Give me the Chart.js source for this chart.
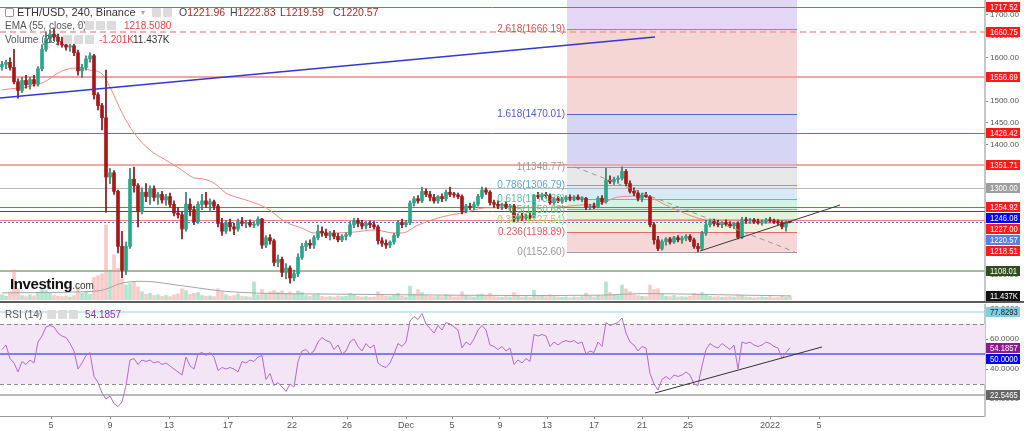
<!DOCTYPE html>
<html><head><meta charset="utf-8">
<script src="https://cdn.jsdelivr.net/npm/chart.js@4.4.1/dist/chart.umd.min.js"></script>
<style>
html,body{margin:0;padding:0;background:#fff;width:1024px;height:431px;overflow:hidden;font-family:Arial,"Liberation Sans",sans-serif;}
#wrap{position:relative;width:1024px;height:431px;}
#mainBox{position:absolute;left:0;top:0;width:1024px;height:301px;}
#sep{position:absolute;left:0;top:301px;width:1024px;height:2px;background:#5b5b5b;}
#rsiBox{position:absolute;left:0;top:303px;width:1024px;height:128px;}
.lg{position:absolute;white-space:nowrap;color:#555;font-size:10px;line-height:10px;}
.r1{font-size:11px;line-height:11px;color:#444;top:7px;}
.r1b{font-size:10.5px;line-height:11px;color:#444;top:7px;}
.ic{position:absolute;width:9px;height:9px;background:#dcdcdc;border-radius:1px;}
.v{color:#a3312f;}
</style></head>
<body><div id="wrap">
<div id="mainBox"><canvas id="mainChart" width="1024" height="301"></canvas></div>
<div id="sep"></div>
<div id="rsiBox"><canvas id="rsiChart" width="1024" height="128"></canvas></div>

<div class="ic" style="left:5px;top:8px;background:#fff;border:1px solid #999;width:7px;height:7px;"></div>
<div class="lg r1" style="left:17px;color:#333;">ETH/USD, 240, Binance</div>
<div class="lg" style="left:141px;top:8px;color:#aaa;font-size:8px;">▾</div>
<div class="ic" style="left:152px;top:8px;"></div><div class="ic" style="left:163px;top:8px;"></div>
<div class="lg r1b" style="left:179px;">O<span class="v">1221.96</span></div>
<div class="lg r1b" style="left:230px;">H<span class="v">1222.83</span></div>
<div class="lg r1b" style="left:280px;">L<span class="v">1219.59</span></div>
<div class="lg r1b" style="left:333px;">C<span class="v">1220.57</span></div>

<div class="lg" style="left:5px;top:21px;">EMA (55, close, 0)</div>
<div class="lg" style="left:77px;top:21px;color:#aaa;font-size:8px;">▾</div>
<div class="ic" style="left:85px;top:21px;"></div><div class="ic" style="left:96px;top:21px;"></div><div class="ic" style="left:107px;top:21px;"></div>
<div class="lg" style="left:124px;top:21px;color:#ef4444;">1218.5080</div>

<div class="lg" style="left:5px;top:35px;">Volume (20)</div>
<div class="ic" style="left:63px;top:35px;"></div><div class="ic" style="left:74px;top:35px;"></div><div class="ic" style="left:85px;top:35px;"></div>
<div class="lg" style="left:99px;top:35px;color:#ef4444;">-1.201K</div>
<div class="lg" style="left:133px;top:35px;color:#333;">11.437K</div>

<div class="lg" style="left:10px;top:276px;color:#111;font-size:15px;line-height:16px;font-weight:bold;letter-spacing:-0.4px;">Investing<span style="font-size:10px;font-weight:normal;color:#333;letter-spacing:0;">.com</span></div>

<div class="lg" style="left:5px;top:310px;">RSI (14)</div>
<div class="lg" style="left:36px;top:310px;color:#aaa;font-size:8px;">▾</div>
<div class="ic" style="left:47px;top:310px;"></div><div class="ic" style="left:58px;top:310px;"></div><div class="ic" style="left:69px;top:310px;"></div>
<div class="lg" style="left:85px;top:310px;color:#9c27b0;">54.1857</div>
</div>
<script>
// ---------- DATA ----------
const opens = [1580,1585,1590,1578,1545,1525,1548,1538,1550,1540,
1575,1620,1645,1655,1648,1638,1630,1625,1628,1612,
1570,1578,1598,1605,1515,1490,1462,1325,1335,1292,
1165,1110,1165,1320,1305,1245,1290,1280,1298,1278,
1285,1272,1280,1262,1242,1238,1205,1262,1250,1222,
1262,1270,1262,1268,1258,1218,1200,1220,1210,1205,
1222,1218,1220,1214,1216,1228,1168,1185,1178,1128,
1135,1105,1115,1092,1102,1140,1165,1172,1168,1185,
1200,1196,1190,1195,1188,1180,1188,1192,1215,1225,
1218,1212,1218,1215,1210,1178,1172,1168,1175,1190,
1220,1215,1220,1265,1275,1270,1292,1285,1278,1270,
1280,1275,1290,1285,1284,1280,1248,1258,1255,1262,
1280,1295,1290,1266,1262,1258,1262,1256,1258,1228,
1235,1230,1236,1232,1282,1280,1284,1282,1266,1275,
1270,1274,1278,1276,1279,1275,1276,1255,1258,1256,
1276,1268,1318,1314,1320,1322,1338,1310,1292,1288,
1276,1284,1280,1215,1180,1160,1176,1182,1175,1185,
1180,1184,1188,1180,1165,1160,1195,1215,1222,1218,
1215,1220,1216,1212,1218,1186,1226,1224,1226,1222,
1220,1222,1226,1224,1221,1220,1210,1221.96];
const highs = [1592,1595,1600,1620,1552,1555,1560,1555,1560,1580,
1630,1660,1665,1668,1655,1648,1640,1635,1632,1618,
1585,1605,1612,1608,1520,1495,1572,1345,1340,1295,
1200,1175,1345,1348,1310,1300,1310,1305,1305,1290,
1292,1285,1288,1270,1255,1245,1290,1275,1258,1268,
1285,1290,1275,1272,1262,1230,1225,1228,1218,1228,
1232,1225,1226,1222,1233,1230,1190,1192,1182,1145,
1140,1125,1120,1110,1148,1172,1178,1180,1190,1214,
1210,1205,1200,1202,1195,1192,1196,1222,1230,1230,
1225,1222,1224,1222,1214,1185,1180,1178,1195,1225,
1228,1225,1270,1280,1282,1302,1298,1292,1285,1282,
1286,1295,1302,1290,1288,1284,1262,1265,1268,1285,
1302,1300,1294,1272,1270,1265,1268,1262,1262,1240,
1242,1240,1242,1285,1290,1288,1290,1286,1278,1280,
1278,1282,1284,1282,1284,1280,1278,1262,1265,1280,
1282,1345,1328,1325,1328,1348.77,1342,1316,1300,1294,
1288,1290,1282,1220,1188,1180,1185,1186,1188,1190,
1188,1192,1192,1184,1172,1200,1225,1228,1228,1225,
1222,1226,1222,1220,1222,1232,1232,1230,1230,1228,
1226,1230,1232,1228,1226,1224,1224,1222.83];
const lows = [1572,1575,1572,1540,1507,1520,1530,1528,1535,1535,
1570,1615,1635,1640,1630,1625,1618,1615,1605,1560,
1555,1572,1590,1505,1480,1434,1244,1310,1285,1150,
1092,1100,1160,1290,1210,1240,1268,1262,1270,1262,
1265,1260,1255,1235,1230,1182,1200,1235,1215,1218,
1250,1255,1248,1250,1210,1190,1195,1200,1192,1200,
1212,1208,1210,1208,1212,1160,1162,1170,1120,1118,
1095,1090,1080,1085,1095,1135,1155,1160,1160,1180,
1188,1185,1180,1182,1175,1176,1180,1188,1208,1210,
1205,1205,1208,1205,1170,1165,1160,1162,1170,1185,
1208,1210,1215,1258,1265,1266,1280,1270,1265,1265,
1268,1270,1280,1278,1275,1240,1242,1250,1250,1258,
1275,1285,1260,1255,1252,1250,1252,1248,1222,1222,
1225,1226,1228,1230,1275,1272,1276,1262,1262,1266,
1265,1268,1270,1270,1272,1268,1250,1250,1252,1254,
1262,1265,1310,1308,1312,1318,1305,1288,1282,1270,
1268,1278,1210,1170,1155,1156,1168,1170,1172,1175,
1172,1178,1176,1160,1152.6,1158,1190,1210,1212,1210,
1208,1212,1208,1206,1182,1183,1218,1218,1218,1216,
1214,1218,1220,1218,1215,1205,1200,1219.59];
const closes = [1585,1590,1578,1545,1525,1548,1538,1550,1540,1575,
1620,1645,1655,1648,1638,1630,1625,1628,1612,1570,
1578,1598,1605,1515,1490,1462,1325,1335,1292,1165,
1110,1165,1320,1305,1245,1290,1280,1298,1278,1285,
1272,1280,1262,1242,1238,1205,1262,1250,1222,1262,
1270,1262,1268,1258,1218,1200,1220,1210,1205,1222,
1218,1220,1214,1216,1228,1168,1185,1178,1128,1135,
1105,1115,1092,1102,1140,1165,1172,1168,1185,1200,
1196,1190,1195,1188,1180,1188,1192,1215,1225,1218,
1212,1218,1215,1210,1178,1172,1168,1175,1190,1220,
1215,1220,1265,1275,1270,1292,1285,1278,1270,1280,
1275,1290,1285,1284,1280,1248,1258,1255,1262,1280,
1295,1290,1266,1262,1258,1262,1256,1258,1228,1235,
1230,1236,1232,1282,1280,1284,1282,1266,1275,1270,
1274,1278,1276,1279,1275,1276,1255,1258,1256,1276,
1268,1318,1314,1320,1322,1338,1310,1292,1288,1276,
1284,1280,1215,1180,1160,1176,1182,1175,1185,1180,
1184,1188,1180,1165,1160,1195,1215,1222,1218,1215,
1220,1216,1212,1218,1186,1226,1224,1226,1222,1220,
1222,1226,1224,1221,1220,1210,1222,1220.57];
const volumes = [14,10,22,80,30,12,9,14,11,20,
28,25,18,12,10,9,11,8,12,35,
18,22,15,60,65,70,200,80,120,85,
55,40,45,48,35,22,15,18,12,14,
10,12,9,14,16,30,25,15,18,20,
12,10,11,9,30,22,14,10,12,16,
10,9,8,48,14,28,18,22,25,20,
24,18,22,15,24,20,12,10,14,16,
10,8,9,8,11,9,10,18,14,10,
8,9,7,8,22,14,10,9,12,18,
10,8,37,16,28,20,12,10,9,11,
9,14,12,8,9,22,12,9,8,14,
16,10,18,9,8,7,9,8,20,10,
8,9,7,26,12,10,9,14,9,8,
7,8,6,8,7,9,18,10,8,12,
10,48,20,14,12,40,30,22,14,12,
10,9,40,28,30,16,10,9,12,8,
9,8,10,18,16,20,14,10,8,9,
7,8,9,8,14,12,8,7,6,7,
8,7,9,6,7,12,8,11.437];
const rsiValues = [53,56,47,44,38,45,43,46,44,58,
62,68,69,68,64,62,61,57,52,40,
44,49,51,35,31,24,20,22,17,15,
18,29,46,47,43,46,45,46,44,45,
43,44,42,40,38,36,48,42,40,50,
51,49,51,48,39,41,40,41,40,38,
45,44,46,45,48,49,33,37,29,31,
28,25,30,28,45,52,53,50,52,58,
61,59,58,53,56,50,52,58,60,55,
52,57,54,56,44,42,41,44,50,57,
55,58,72,75,73,77,70,67,64,69,
66,71,70,68,66,54,58,56,60,66,
69,66,56,55,53,55,52,54,43,46,
44,47,45,63,62,63,62,55,58,56,
58,59,58,59,57,58,50,52,51,58,
55,71,69,70,71,74,64,58,56,52,
55,54,37,30,26,33,35,33,36,35,
36,38,36,30,29,42,53,57,55,54,
57,55,53,56,40,58,57,58,56,55,
56,58,57,55,54,47,51,54.1857];
const emaBars = [0,10,15,19,22,25,27,30,33,37,41,45,48,50,53,56,61,66,71,75,78,83,88,93,98,100,104,110,116,121,127,133,139,144,150,154,159,163,166,170,174,179,183,191,197];
const emaValues = [1526,1542,1570,1577,1572,1563,1533,1473,1427,1387,1364,1341,1323,1321,1311,1288,1272,1254,1221,1207,1196,1196,1198,1203,1196,1196,1214,1233,1244,1254,1254,1254,1256,1260,1265,1279,1281,1274,1260,1244,1230,1221,1219,1219,1218.51];
const volMABars = [0,20,25,30,35,45,55,65,80,100,130,150,160,170,185,197];
const volMAValues = [19,22,26,45,50,38,24,18,16,14,12,13,17,16,13,11];

const priceTicks = [1050,1100,1150,1200,1250,1300,1350,1400,1450,1500,1550,1600,1650,1700];
const rsiTicks = [20,40,60,80];
const timeTickPos = [12.25,27,41.75,56.5,72.5,86.25,101,112.5,124.5,136.25,148,160,171.5,192,204.25];
const timeTickLabels = ['5','9','13','17','22','26','Dec','5','9','13','17','21','25','2022','5'];

const hLineValues = [1717.52,1660.75,1556.69,1426.42,1351.71,1300.00,1254.92,1246.08,1227.00,1220.57,1108.01];
const priceTagValues = [1717.52,1660.75,1556.69,1426.42,1351.71,1300.00,1254.92,1246.08,1227.00,1220.57,1218.51,1108.01];
const volumeTagValue = 11.437;

const fibRatios = [0,0.236,0.382,0.5,0.618,0.786,1,1.618,2.618];
const fibPrices = [1152.60,1198.89,1227.54,1250.68,1273.83,1306.79,1348.77,1470.01,1666.19];
const fibSpan = [141.25,198.75];

const trendLines = [
  [[-0.5,1507.5],[163.25,1648.3]],
  [[174.5,1154.3],[209.5,1260.4]],
  [[143.25,1348.2],[198.25,1152.0]]
];
const rsiLevels = [70,30,50,77.8293,22.5465];
const rsiTagValues = [77.8293,54.1857,50.0000,22.5465];
const rsiTrendLine = [[163.25,24.0],[205,54.7]];

// ---------- STYLES ----------
const FONT = 'Arial, "Liberation Sans", sans-serif';
Chart.defaults.font.family = FONT;
const X_MIN = -0.5, X_MAX = 245.75;
const P_MIN = 1041.2, P_MAX = 1733.7, V_MAX = 800;
const R_MIN = 8.667, R_MAX = 82.667;
const UP_FILL = '#27a88b', DN_FILL = '#a81616', UP_WICK = '#3d7a66', DN_WICK = '#7c1414';
const hLineStyles = [
 {c:'#f24a4a',w:1,d:[]},{c:'#f59a9a',w:1.5,d:[6,4]},{c:'#f7a3a3',w:2,d:[]},{c:'#ee4747',w:1,d:[]},
 {c:'#f5a6a6',w:2,d:[]},{c:'#b8b8b8',w:1,d:[]},{c:'#f04848',w:1,d:[]},{c:'#3c3cf0',w:1,d:[]},
 {c:'#f28080',w:1,d:[]},{c:'#5078e6',w:1,d:[2,2]},{c:'#a9b89c',w:2,d:[]}];
const priceTagStyles = ['#ff1a1a','#ff1a1a','#ff1a1a','#ff1a1a','#ff1a1a','#9e9e9e','#ff1a1a','#0000ff','#ff1a1a','#5b7fe6','#ff1a1a','#2f4f1f'];
const fibBandColors = ['#f6d6d6','#eaf5dc','#dff3dd','#d6f1e5','#d7eaf6','#e7e7e7','#d5d5f6','#f6d5d5','#e4d6f5'];
const fibLineColors = ['#9a9a9a','#e46a6a','#a9d66e','#60c97c','#55c6a3','#68aadc','#9a9a9a','#5566d4','#e46a6a'];
const fibLabelColors = ['#9a9a9a','#e05c5c','#a5d56e','#5ac474','#55c6a0','#5aa5dc','#9a9a9a','#4b5fc8','#e05050'];
const trendStyles = [{c:'#3535d8',w:1.3,d:[]},{c:'#3a3a3a',w:1,d:[]},{c:'#9a9a9a',w:1,d:[5,4]}];
const rsiLevelStyles = [{c:'#8c8c8c',w:1,d:[4,3]},{c:'#8c8c8c',w:1,d:[4,3]},{c:'#5a5af2',w:1.5,d:[]},{c:'#8fd8e8',w:1.2,d:[]},{c:'#777',w:1.2,d:[]}];
const rsiTagStyles = [{bg:'#7fcfdf',fg:'#222'},{bg:'#8e1a8e',fg:'#fff'},{bg:'#0000ee',fg:'#fff'},{bg:'#666',fg:'#fff'}];

const isUp = i => closes[i] >= opens[i];

function hline(ctx, a, py, st){
  ctx.save(); ctx.strokeStyle = st.c; ctx.lineWidth = st.w; ctx.setLineDash(st.d);
  const yy = st.w % 2 === 1 ? Math.round(py) + 0.5 : Math.round(py);
  ctx.beginPath(); ctx.moveTo(a.left, yy); ctx.lineTo(a.right, yy); ctx.stroke(); ctx.restore();
}
function segLine(ctx, xs, ys, seg, st){
  ctx.save(); ctx.strokeStyle = st.c; ctx.lineWidth = st.w; ctx.setLineDash(st.d);
  ctx.beginPath();
  ctx.moveTo(xs.getPixelForValue(seg[0][0]), ys.getPixelForValue(seg[0][1]));
  ctx.lineTo(xs.getPixelForValue(seg[1][0]), ys.getPixelForValue(seg[1][1]));
  ctx.stroke(); ctx.restore();
}
function drawTags(chart, items){
  const ctx = chart.ctx, x0 = chart.chartArea.right + 1;
  const list = items.map(t => ({...t, py: chart.scales[t.axis].getPixelForValue(t.value)})).sort((a,b)=>a.py-b.py);
  let prev = -1e9;
  ctx.save(); ctx.font = '8.5px ' + FONT; ctx.textBaseline = 'middle'; ctx.textAlign = 'left';
  list.forEach(t => {
    const py = Math.round(Math.max(t.py, prev + 11)); prev = py;
    ctx.fillStyle = t.bg; ctx.fillRect(x0, py - 5, 34, 10);
    ctx.fillStyle = t.fg;
    ctx.save(); ctx.translate(x0 + 4, py + 0.5); ctx.scale(0.9, 1); ctx.fillText(t.text, 0, 0); ctx.restore();
  });
  ctx.restore();
}
function clipArea(ctx, a){ ctx.save(); ctx.beginPath(); ctx.rect(a.left, a.top, a.width, a.height); ctx.clip(); }

const mainPlugin = {
  id: 'mainDeco',
  beforeDatasetsDraw(chart){
    const {ctx, chartArea:a} = chart, xs = chart.scales.x, ys = chart.scales.y;
    clipArea(ctx, a);
    const xl = xs.getPixelForValue(fibSpan[0]), xr = xs.getPixelForValue(fibSpan[1]);
    for (let k = 0; k < fibPrices.length; k++){
      const lo = fibPrices[k], hi = k + 1 < fibPrices.length ? fibPrices[k+1] : ys.max;
      const yt = ys.getPixelForValue(hi), yb = ys.getPixelForValue(lo);
      ctx.fillStyle = fibBandColors[k]; ctx.fillRect(xl, yt, xr - xl, yb - yt);
    }
    fibPrices.forEach((p,k) => {
      const yy = Math.round(ys.getPixelForValue(p)) + 0.5;
      ctx.strokeStyle = fibLineColors[k]; ctx.lineWidth = 1;
      ctx.beginPath(); ctx.moveTo(xl, yy); ctx.lineTo(xr, yy); ctx.stroke();
    });
    hLineValues.forEach((v,k) => hline(ctx, a, ys.getPixelForValue(v), hLineStyles[k]));
    ctx.restore();
  },
  afterDatasetsDraw(chart){
    const {ctx, chartArea:a} = chart, xs = chart.scales.x, ys = chart.scales.y;
    clipArea(ctx, a);
    trendLines.forEach((seg,k) => segLine(ctx, xs, ys, seg, trendStyles[k]));
    const xl = xs.getPixelForValue(fibSpan[0]);
    ctx.font = '10px ' + FONT; ctx.textAlign = 'right'; ctx.textBaseline = 'middle';
    fibPrices.forEach((p,k) => {
      ctx.fillStyle = fibLabelColors[k];
      ctx.fillText(String(fibRatios[k]) + '(' + p.toFixed(2) + ')', xl - 2, ys.getPixelForValue(p) + 0.5);
    });
    ctx.restore();
  },
  afterDraw(chart){
    const items = priceTagValues.map((v,k) => ({axis:'y', value:v, text:v.toFixed(2), bg:priceTagStyles[k], fg:'#fff'}));
    items.push({axis:'yv', value:volumeTagValue, text:volumeTagValue + 'K', bg:'#111', fg:'#fff'});
    drawTags(chart, items);
  }
};

const rsiPlugin = {
  id: 'rsiDeco',
  beforeDatasetsDraw(chart){
    const {ctx, chartArea:a} = chart, ys = chart.scales.y;
    clipArea(ctx, a);
    const y70 = ys.getPixelForValue(70), y30 = ys.getPixelForValue(30);
    ctx.fillStyle = '#f3e5f5'; ctx.fillRect(a.left, y70, a.width, y30 - y70);
    rsiLevels.forEach((v,k) => hline(ctx, a, ys.getPixelForValue(v), rsiLevelStyles[k]));
    ctx.restore();
  },
  afterDatasetsDraw(chart){
    const {ctx, chartArea:a} = chart;
    clipArea(ctx, a);
    segLine(ctx, chart.scales.x, chart.scales.y, rsiTrendLine, {c:'#333',w:1,d:[]});
    ctx.restore();
  },
  afterDraw(chart){
    drawTags(chart, rsiTagValues.map((v,k) => ({axis:'y', value:v, text:v.toFixed(4), bg:rsiTagStyles[k].bg, fg:rsiTagStyles[k].fg})));
  }
};

const yAxisFit = s => { s.width = 39; s.paddingTop = 0; s.paddingBottom = 0; };

new Chart(document.getElementById('mainChart'), {
  type: 'bar',
  data: { datasets: [
    { label:'body', data: opens.map((o,i)=>({x:i, y:[o, closes[i]]})), yAxisID:'y', grouped:false,
      barThickness:3, minBarLength:1, order:0, borderWidth:0,
      backgroundColor: c => isUp(c.dataIndex) ? UP_FILL : DN_FILL },
    { label:'wick', data: lows.map((l,i)=>({x:i, y:[l, highs[i]]})), yAxisID:'y', grouped:false,
      barThickness:1, order:1, borderWidth:0,
      backgroundColor: c => isUp(c.dataIndex) ? UP_WICK : DN_WICK },
    { type:'line', label:'EMA', data: emaBars.map((b,k)=>({x:b, y:emaValues[k]})), yAxisID:'y',
      borderColor:'#f28b82', borderWidth:1, pointRadius:0, cubicInterpolationMode:'monotone', order:2 },
    { type:'line', label:'VolMA', data: volMABars.map((b,k)=>({x:b, y:volMAValues[k]})), yAxisID:'yv',
      borderColor:'#a6a6a6', borderWidth:1, pointRadius:0, cubicInterpolationMode:'monotone', order:3 },
    { label:'Volume', data: volumes.map((v,i)=>({x:i, y:v})), yAxisID:'yv', grouped:false,
      barThickness:3, order:4, borderWidth:0,
      backgroundColor: c => isUp(c.dataIndex) ? 'rgba(110,210,165,0.55)' : 'rgba(245,150,150,0.5)' }
  ]},
  options: {
    responsive:false, animation:false, events:[],
    layout:{padding:{top:0,bottom:1,left:0,right:0}},
    plugins:{legend:{display:false}, tooltip:{enabled:false}},
    scales:{
      x:{type:'linear', min:X_MIN, max:X_MAX, display:false, offset:false},
      y:{type:'linear', position:'right', min:P_MIN, max:P_MAX,
         afterBuildTicks: s => { s.ticks = priceTicks.map(v => ({value:v})); },
         afterFit: yAxisFit,
         ticks:{font:{size:8}, color:'#555', padding:2, callback: v => Number(v).toFixed(2)},
         grid:{drawOnChartArea:false, tickLength:3, color:'#888'},
         border:{display:true, color:'#c6c6c6', width:2}},
      yv:{type:'linear', display:false, min:0, max:V_MAX}
    }
  },
  plugins:[mainPlugin]
});

new Chart(document.getElementById('rsiChart'), {
  type: 'line',
  data: { datasets: [
    { label:'RSI', data: rsiValues.map((v,i)=>({x:i, y:v})), borderColor:'#b46ac8', borderWidth:1, pointRadius:0, tension:0 }
  ]},
  options: {
    responsive:false, animation:false, events:[],
    layout:{padding:{top:2,bottom:0,left:0,right:0}},
    plugins:{legend:{display:false}, tooltip:{enabled:false}},
    scales:{
      x:{type:'linear', min:X_MIN, max:X_MAX, position:'bottom', offset:false,
         afterBuildTicks: s => { s.ticks = timeTickPos.map(v => ({value:v})); },
         afterFit: s => { s.height = 15; s.paddingLeft = 0; s.paddingRight = 0; },
         ticks:{font:{size:9}, color:'#555', padding:1, maxRotation:0, autoSkip:false,
                callback:(v, idx) => timeTickLabels[idx]},
         grid:{drawOnChartArea:false, tickLength:3, color:'#888'},
         border:{display:true, color:'#999', width:1}},
      y:{type:'linear', position:'right', min:R_MIN, max:R_MAX,
         afterBuildTicks: s => { s.ticks = rsiTicks.map(v => ({value:v})); },
         afterFit: yAxisFit,
         ticks:{font:{size:8}, color:'#555', padding:2, callback: v => Number(v).toFixed(4)},
         grid:{drawOnChartArea:false, tickLength:3, color:'#888'},
         border:{display:true, color:'#c6c6c6', width:2}}
    }
  },
  plugins:[rsiPlugin]
});
</script>
</body></html>
